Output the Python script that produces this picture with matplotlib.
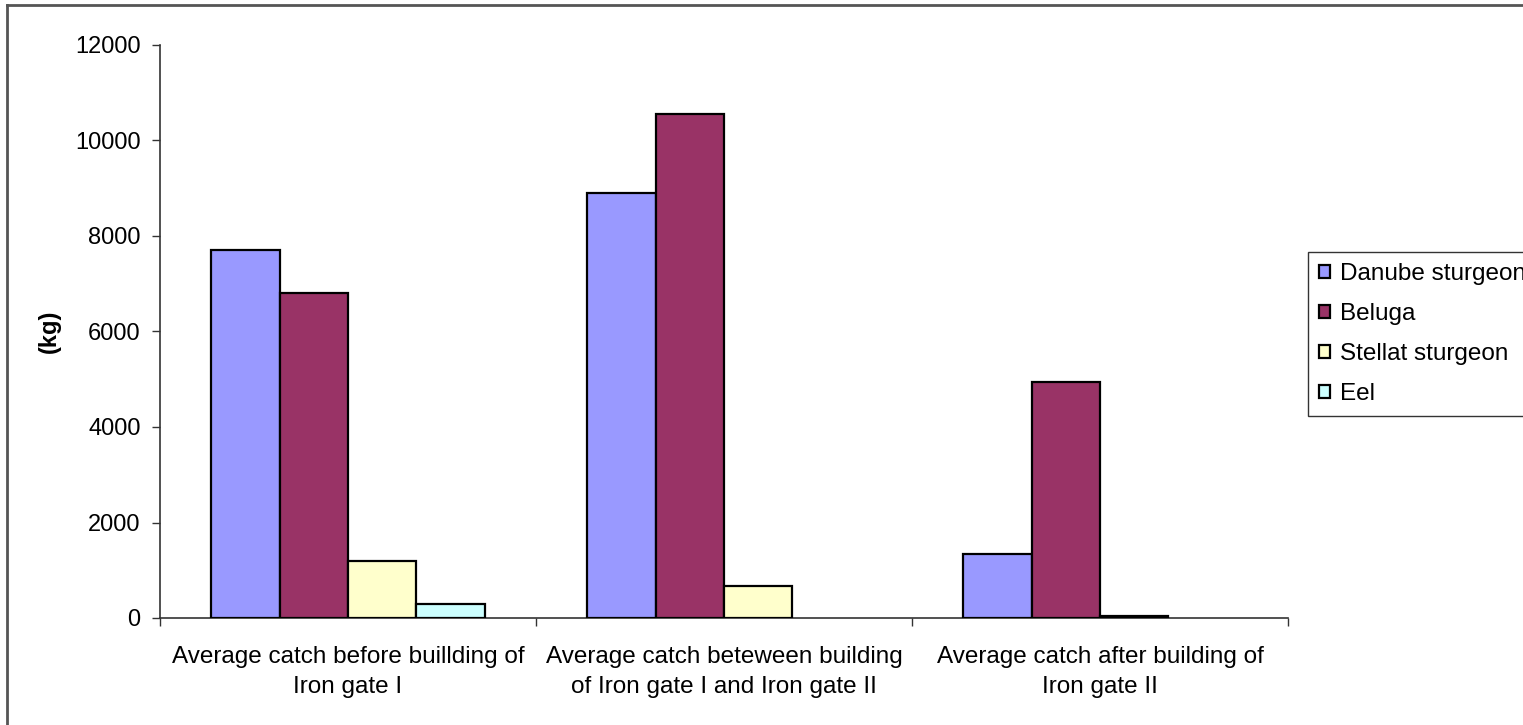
import matplotlib
matplotlib.use("Agg")
import matplotlib.pyplot as plt
from matplotlib.lines import Line2D
import numpy as np

plt.rcParams['font.family'] = ['Liberation Sans', 'DejaVu Sans']

categories = [
    "Average catch before buillding of\nIron gate I",
    "Average catch beteween building\nof Iron gate I and Iron gate II",
    "Average catch after building of\nIron gate II",
]
series_names = ["Danube sturgeon", "Beluga", "Stellat sturgeon", "Eel"]
danube = [7700, 8900, 1340]
beluga = [6800, 10550, 4950]
stellat = [1200, 670, 40]
eel = [300, 0, 0]
series_values = [danube, beluga, stellat, eel]
colors = ["#9999FF", "#993366", "#FFFFCC", "#CCFFFF"]
yticks = [0, 2000, 4000, 6000, 8000, 10000, 12000]

W, H = 1523, 725
fig = plt.figure(figsize=(W / 100, H / 100), dpi=100)
ax = fig.add_axes([160 / W, 1 - 618 / H, (1288 - 160) / W, (618 - 45) / H])

n = len(series_values)
gap = 1.5
bw = 1.0 / (n + gap)
x = np.arange(len(categories))
for i, (vals, name, c) in enumerate(zip(series_values, series_names, colors)):
    offs = -0.5 + gap * bw / 2 + i * bw
    bars = ax.bar(x + offs, vals, width=bw, align='edge', color=c,
                  edgecolor='black', linewidth=1.6, label=name, zorder=3)
    # empty bars leave no outline on the axis
    for b, v in zip(bars, vals):
        if v == 0:
            b.set_linewidth(0)

ax.set_xlim(-0.5, len(categories) - 0.5)
ax.set_ylim(0, 12000)
ax.set_yticks(yticks)
ax.set_yticklabels([str(t) for t in yticks])
ax.set_xticks(np.arange(len(categories) + 1) - 0.5)
ax.set_xticklabels([])
ax.set_xticks(x, minor=True)
ax.set_xticklabels(categories, minor=True, fontsize=17.5, linespacing=1.48)
ax.tick_params(axis='x', which='minor', length=0, pad=20)
ax.tick_params(axis='x', which='major', length=6, width=1, color='#333333', direction='out')
ax.tick_params(axis='y', length=6, width=1, color='#333333', labelsize=17, pad=8)

for s in ['top', 'right']:
    ax.spines[s].set_visible(False)
for s in ['left', 'bottom']:
    ax.spines[s].set_color('#333333')
    ax.spines[s].set_linewidth(1.2)

ax.set_ylabel("(kg)", fontsize=17, fontweight='bold', labelpad=10)

fs = 17.5
fig.legend(loc='upper left', bbox_to_anchor=(1308 / W, 1 - 252 / H),
           fontsize=fs, frameon=True, fancybox=False, edgecolor='black',
           handlelength=0.45, handleheight=0.45, handletextpad=0.4,
           labelspacing=0.74, borderpad=0.45, borderaxespad=0)
leg = fig.legends[0]
leg.get_frame().set_linewidth(1.0)
for h in leg.legend_handles:
    h.set_linewidth(1.6)

# outer chart border (top and left)
fig.add_artist(Line2D([7 / W, 1], [1 - 5 / H, 1 - 5 / H], color='#555555', lw=2,
                      transform=fig.transFigure))
fig.add_artist(Line2D([7 / W, 7 / W], [0, 1 - 5 / H], color='#555555', lw=2,
                      transform=fig.transFigure))

fig.savefig("out.png", dpi=100)
